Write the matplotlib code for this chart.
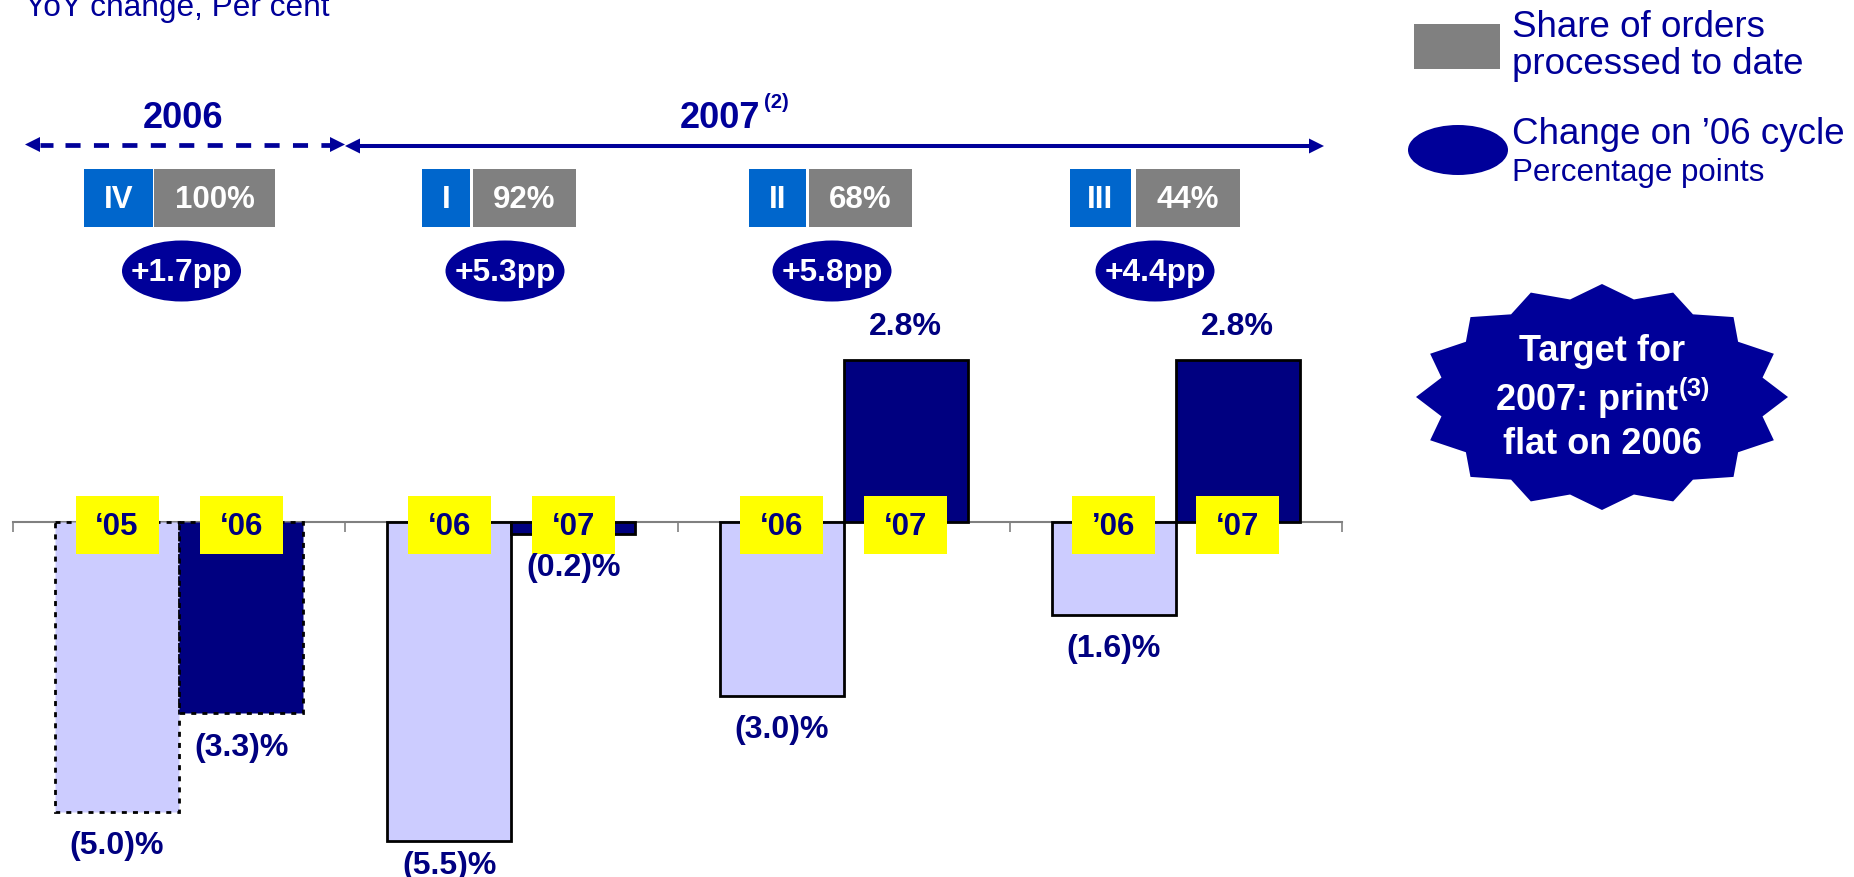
import numpy as np
import matplotlib
matplotlib.use("Agg")
import matplotlib.pyplot as plt
from matplotlib.patches import Rectangle, Ellipse, Polygon

plt.rcParams['font.family'] = ['Liberation Sans', 'DejaVu Sans']
plt.rcParams['mathtext.fontset'] = 'custom'
plt.rcParams['mathtext.rm'] = 'Liberation Sans'
plt.rcParams['mathtext.bf'] = 'Liberation Sans:bold'
plt.rcParams['mathtext.default'] = 'bf'

# ---- data -------------------------------------------------------------
quarters = ['IV', 'I', 'II', 'III']
share_processed = ['100%', '92%', '68%', '44%']
pp_change = [1.7, 5.3, 5.8, 4.4]
prior_tags = ['\u201805', '\u201806', '\u201806', '\u201906']
current_tags = ['\u201806', '\u201807', '\u201807', '\u201807']
prior_cycle = [-5.0, -5.5, -3.0, -1.6]
current_cycle = [-3.3, -0.2, 2.8, 2.8]

NAVY = '#000099'
DARK = '#000080'
LIGHT = '#CCCCFF'
BLUE = '#0066CC'
GREY = '#808080'
YELLOW = '#FFFF00'

W, H = 1854, 878
fig = plt.figure(figsize=(W / 100, H / 100), dpi=100)

# bar axes covers the whole canvas; zero line sits 523 px from the top,
# one percentage point is 58 px, one quarter is 332.25 px wide
ax = fig.add_axes([0, 0, 1, 1])
px_x = 332.25
px_y = 58.0
ax.set_xlim(-0.5 - 13 / px_x, 3.5 + (W - 1342) / px_x)
ax.set_ylim(-(H - 523) / px_y, 523 / px_y)
ax.axis('off')

x = np.arange(len(quarters))
bw = 124 / px_x

dotted = (0, (1.8, 2.2))
b1 = ax.bar(x - bw / 2, prior_cycle, width=bw, color=LIGHT, edgecolor='black',
            linewidth=2.0, zorder=2)
b2 = ax.bar(x + bw / 2, current_cycle, width=bw, color=DARK, edgecolor='black',
            linewidth=2.0, zorder=2)
# the completed 2006 cycle is outlined with dots
b1[0].set_linestyle(dotted)
b2[0].set_linestyle(dotted)

# zero line with downward ticks between quarters
ax.plot([-0.5, 3.5], [0, 0], color=GREY, lw=1.5, zorder=1)
ax.vlines(np.arange(-0.5, 4.0, 1.0), -10 / px_y, 0, color=GREY, lw=1.2, zorder=1)


def pct_label(v):
    return f'({abs(v):.1f})%' if v < 0 else f'{v:.1f}%'


for xs, vals in ((x - bw / 2, prior_cycle), (x + bw / 2, current_cycle)):
    for xi, v in zip(xs, vals):
        off = 24 if v > -5.2 else 17
        ax.annotate(pct_label(v), (xi, v), xytext=(0, off if v > 0 else -off),
                    textcoords='offset points', ha='center', va='center',
                    fontsize=23, fontweight='bold', color=DARK, zorder=5)

# yellow cycle tags straddling the zero line
tw, th = 83 / px_x, 58 / px_y
for xs, tags in ((x - bw / 2, prior_tags), (x + bw / 2, current_tags)):
    for xi, t in zip(xs, tags):
        ax.add_patch(Rectangle((xi - tw / 2, -32 / px_y), tw, th,
                               facecolor=YELLOW, edgecolor='none', zorder=4))
        ax.text(xi, -4 / px_y, t, ha='center', va='center', fontsize=22.5,
                fontweight='bold', color=DARK, zorder=5)

# ---- header, legend and badge in pixel coordinates -------------------
ov = fig.add_axes([0, 0, 1, 1], zorder=3)
ov.set_xlim(0, W)
ov.set_ylim(H, 0)
ov.axis('off')
ov.patch.set_alpha(0)

ov.text(25, 16, 'YoY change, Per cent', fontsize=22.8, color=NAVY,
        ha='left', va='baseline')


def head(tip_x, y, direction, size=15):
    base = tip_x - direction * size
    ov.add_patch(Polygon([[tip_x, y], [base, y - size / 2], [base, y + size / 2]],
                         closed=True, facecolor=NAVY, edgecolor='none'))


# period arrows: 2006 dashed, 2007 solid
ov.plot([40, 53], [145.5, 145.5], color=NAVY, lw=3.4, solid_capstyle='butt')
ov.plot([65, 331], [145.5, 145.5], color=NAVY, lw=3.4,
        ls=(0, (15 / 4.7, 13.3 / 4.7)), dash_capstyle='butt')
head(25, 145.5, -1)
head(345, 145.5, 1)
ov.plot([359, 1309], [147, 147], color=NAVY, lw=2.9, solid_capstyle='butt')
head(345, 147, -1)
head(1324, 147, 1)

ov.text(183, 118, '2006', fontsize=26, fontweight='bold', color=NAVY,
        ha='center', va='center')
ov.text(720.5, 118, '2007', fontsize=26, fontweight='bold', color=NAVY,
        ha='center', va='center')
ov.text(764, 103, '(2)', fontsize=14.5, fontweight='bold', color=NAVY,
        ha='left', va='center')

blue_spans = [(84, 153), (422, 470), (749, 806), (1070, 1131)]
grey_spans = [(154, 275), (473, 576), (809, 912), (1136, 1240)]
ell_x = [181.5, 505, 832, 1155]
for q, s, pp, bs, gs, ex in zip(quarters, share_processed, pp_change,
                                blue_spans, grey_spans, ell_x):
    ov.add_patch(Rectangle((bs[0], 170), bs[1] - bs[0], 58, facecolor=BLUE,
                           edgecolor='none'))
    ov.text((bs[0] + bs[1]) / 2, 200, q, fontsize=22.5, fontweight='bold',
            color='white', ha='center', va='center')
    ov.add_patch(Rectangle((gs[0], 170), gs[1] - gs[0], 58, facecolor=GREY,
                           edgecolor='none'))
    ov.text((gs[0] + gs[1]) / 2, 200, s, fontsize=22.5, fontweight='bold',
            color='white', ha='center', va='center')
    ov.add_patch(Ellipse((ex, 272), 119, 61, facecolor=NAVY, edgecolor='none'))
    ov.text(ex, 273, f'+{pp:.1f}pp', fontsize=22.8, fontweight='bold',
            color='white', ha='center', va='center')

# legend
ov.add_patch(Rectangle((1414, 25), 86, 45, facecolor=GREY, edgecolor='none'))
ov.text(1512, 46, 'Share of orders\nprocessed to date', fontsize=26.5,
        color=NAVY, ha='left', va='center', linespacing=1.05)
ov.add_patch(Ellipse((1458, 151), 100, 50, facecolor=NAVY, edgecolor='none'))
ov.text(1512, 135, 'Change on \u201906 cycle', fontsize=26.5, color=NAVY,
        ha='left', va='center')
ov.text(1512, 173, 'Percentage points', fontsize=22.5, color=NAVY,
        ha='left', va='center')

# target badge: 16-point star, wider than tall
n_pts = 16
k = np.arange(2 * n_pts)
ang = np.pi / 2 + k * np.pi / n_pts
scale = np.where(k % 2 == 0, 1.0, 0.88)
cx, cy, rx, ry = 1602, 398, 186, 113
ov.add_patch(Polygon(np.column_stack([cx + rx * scale * np.cos(ang),
                                      cy - ry * scale * np.sin(ang)]),
                     closed=True, facecolor=NAVY, edgecolor='none'))
ov.text(cx, cy, 'Target for\n2007: print$^{(3)}$\nflat on 2006', fontsize=26,
        fontweight='bold', color='white', ha='center', va='center',
        linespacing=1.2)

fig.savefig('out.png', dpi=100)
